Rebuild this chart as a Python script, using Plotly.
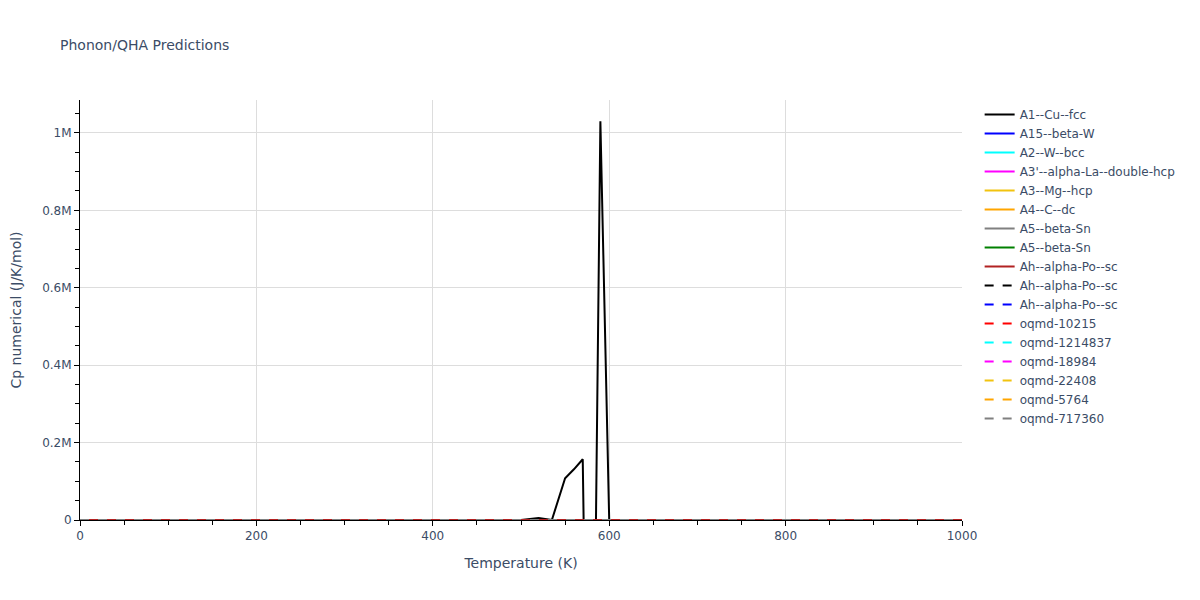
import plotly.graph_objects as go

# A1--Cu--fcc (the only series with visible structure)
t_a1 = [0, 100, 200, 300, 400, 500, 520, 535, 550, 560, 570, 571, 585, 590, 600, 700, 800, 900, 1000]
cp_a1 = [0, 20, 23, 24, 25, 26, 5000, 0, 108000, 131000, 157000, 0, 0, 1030000, 0, 0, 0, 0, 0]

# Other series: temperature grid and near-zero Cp values
t_grid = [0, 100, 200, 300, 400, 500, 600, 700, 800, 900, 1000]
cp_a15 = [0, 21, 24, 25, 25, 26, 26, 27, 27, 27, 28]
cp_a2 = [0, 19, 23, 24, 25, 25, 26, 26, 27, 27, 27]
cp_a3p = [0, 22, 24, 25, 26, 26, 27, 27, 28, 28, 28]
cp_a3 = [0, 20, 23, 24, 25, 25, 26, 26, 26, 27, 27]
cp_a4 = [0, 6, 15, 19, 21, 22, 23, 24, 24, 25, 25]
cp_a5a = [0, 22, 25, 25, 26, 26, 27, 27, 28, 28, 29]
cp_a5b = [0, 21, 24, 25, 26, 26, 27, 27, 27, 28, 28]
cp_aha = [0, 22, 24, 25, 26, 26, 27, 27, 28, 28, 28]
cp_ahb = [0, 21, 24, 25, 25, 26, 26, 27, 27, 28, 28]
cp_ahc = [0, 22, 25, 25, 26, 26, 27, 27, 27, 28, 28]
cp_o10215 = [0, 20, 23, 24, 25, 25, 26, 26, 27, 27, 27]
cp_o1214837 = [0, 21, 24, 25, 25, 26, 26, 27, 27, 27, 28]
cp_o18984 = [0, 22, 24, 25, 26, 26, 27, 27, 28, 28, 28]
cp_o22408 = [0, 20, 23, 24, 25, 26, 26, 26, 27, 27, 27]
cp_o5764 = [0, 21, 24, 25, 25, 26, 26, 27, 27, 28, 28]
cp_o717360 = [0, 22, 24, 25, 26, 26, 27, 27, 27, 28, 28]

series = [
    ("A1--Cu--fcc", t_a1, cp_a1, "black", "solid"),
    ("A15--beta-W", t_grid, cp_a15, "blue", "solid"),
    ("A2--W--bcc", t_grid, cp_a2, "cyan", "solid"),
    ("A3'--alpha-La--double-hcp", t_grid, cp_a3p, "magenta", "solid"),
    ("A3--Mg--hcp", t_grid, cp_a3, "#F2C30F", "solid"),
    ("A4--C--dc", t_grid, cp_a4, "orange", "solid"),
    ("A5--beta-Sn", t_grid, cp_a5a, "gray", "solid"),
    ("A5--beta-Sn", t_grid, cp_a5b, "green", "solid"),
    ("Ah--alpha-Po--sc", t_grid, cp_aha, "#B22222", "solid"),
    ("Ah--alpha-Po--sc", t_grid, cp_ahb, "black", "dash"),
    ("Ah--alpha-Po--sc", t_grid, cp_ahc, "blue", "dash"),
    ("oqmd-10215", t_grid, cp_o10215, "red", "dash"),
    ("oqmd-1214837", t_grid, cp_o1214837, "cyan", "dash"),
    ("oqmd-18984", t_grid, cp_o18984, "magenta", "dash"),
    ("oqmd-22408", t_grid, cp_o22408, "#F2C30F", "dash"),
    ("oqmd-5764", t_grid, cp_o5764, "orange", "dash"),
    ("oqmd-717360", t_grid, cp_o717360, "gray", "dash"),
]

fig = go.Figure()
for name, t, cp, color, dash in series:
    fig.add_trace(go.Scatter(x=t, y=cp, mode="lines", name=name,
                             line=dict(color=color, width=2, dash=dash)))

text_color = "#3b4c66"
fig.update_layout(
    width=1200, height=600,
    template="plotly_white",
    font=dict(family="Verdana, DejaVu Sans, sans-serif", size=12, color=text_color),
    title=dict(text="Phonon/QHA Predictions", x=52 / 1200, xanchor="left", y=1 - 37 / 600, yanchor="middle",
               font=dict(size=14, color=text_color)),
    margin=dict(l=72, r=246, t=92, b=88),
    plot_bgcolor="white",
    paper_bgcolor="white",
    legend=dict(font=dict(size=12)),
)
fig.update_xaxes(
    title=dict(text="Temperature (K)", font=dict(size=14)),
    range=[0, 1000], dtick=200, automargin=False,
    showline=True, linecolor="black", linewidth=1,
    ticks="outside", ticklen=5, tickcolor="black",
    showgrid=True, gridcolor="#dddddd", zeroline=False,
    minor=dict(ticks="outside", dtick=50, ticklen=4, tickcolor="black", showgrid=False),
)
fig.update_yaxes(
    title=dict(text="Cp numerical (J/K/mol)", font=dict(size=14), standoff=20),
    range=[0, 1.085e6], dtick=200000, automargin=False,
    showline=True, linecolor="black", linewidth=1,
    ticks="outside", ticklen=5, tickcolor="black",
    showgrid=True, gridcolor="#dddddd", zeroline=False,
    minor=dict(ticks="outside", dtick=50000, ticklen=4, tickcolor="black", showgrid=False),
)

fig.write_html("out.html")
